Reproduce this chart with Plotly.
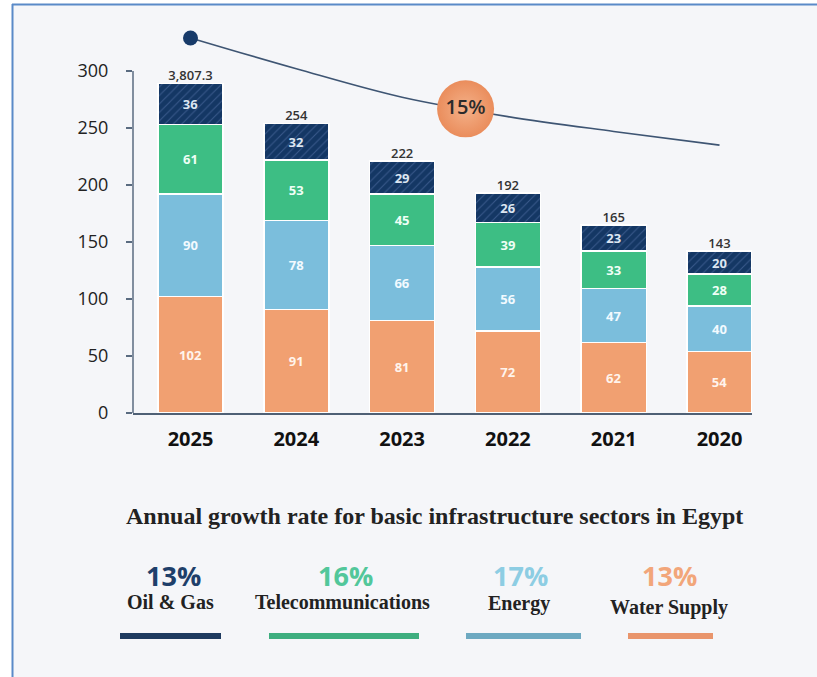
import numpy as np
import plotly.graph_objects as go

# ---- data ---------------------------------------------------------------
years = ["2025", "2024", "2023", "2022", "2021", "2020"]
water_supply = [102, 91, 81, 72, 62, 54]
energy = [90, 78, 66, 56, 47, 40]
telecom = [61, 53, 45, 39, 33, 28]
oil_gas = [36, 32, 29, 26, 23, 20]
total_labels = ["3,807.3", "254", "222", "192", "165", "143"]
trend = [329, 302, 277, 260, 247, 235]
trend_rate = "15%"
sectors = ["Oil & Gas", "Telecommunications", "Energy", "Water Supply"]
sector_growth = ["13%", "16%", "17%", "13%"]
y_ticks = [0, 50, 100, 150, 200, 250, 300]
title_text = "Annual growth rate for basic infrastructure sectors in Egypt"

# ---- styling --------------------------------------------------------------
W, H = 817, 677
ML, MR, MT, MB = 133, 65, 20, 264
PW, PH = W - ML - MR, H - MT - MB
PX_PER_UNIT = 1.14

C_WATER, C_ENERGY, C_TELE, C_OIL = "#F1A071", "#7BBEDC", "#3DBE84", "#143764"
PCT_COLORS = ["#1F3F6A", "#52C79A", "#8DCDE3", "#F2A67A"]
KEY_COLORS = ["#1E3A5F", "#3EAE7F", "#6DA9C1", "#E9956C"]
BG = "#F5F6F9"
SANS = "Open Sans"
SERIF = "Liberation Serif"


def px(xp):
    return (xp - ML) / PW


def py(yp):
    return (H - MB - yp) / PH


x_pos = list(range(len(years)))
totals = [a + b + c + d for a, b, c, d in zip(water_supply, energy, telecom, oil_gas)]

fig = go.Figure()

stack = [
    ("Water Supply", water_supply, C_WATER, "#FFF4EC", None),
    ("Energy", energy, C_ENERGY, "#F2FAFF", None),
    ("Telecommunications", telecom, C_TELE, "#EFFFF6", None),
    ("Oil & Gas", oil_gas, C_OIL, "#DCE6F2",
     dict(shape="/", fillmode="replace", bgcolor=C_OIL, fgcolor="#38588A",
          size=6, solidity=0.18)),
]
for name, vals, col, tcol, pattern in stack:
    marker = dict(color=col, line=dict(color="#FFFFFF", width=1.5))
    if pattern:
        marker["pattern"] = pattern
    fig.add_trace(go.Bar(
        x=x_pos, y=vals, name=name, width=0.615, marker=marker,
        texttemplate="%{y}", textposition="inside", insidetextanchor="middle",
        textangle=0, constraintext="none",
        textfont=dict(family=SANS, size=13, color=tcol, weight=700),
    ))

# totals above each column
fig.add_trace(go.Scatter(
    x=x_pos, y=totals, mode="text", text=total_labels,
    textposition="top center", cliponaxis=False,
    textfont=dict(family=SANS, size=13, color="#333333", weight=600),
))

# overall growth curve
fig.add_trace(go.Scatter(
    x=x_pos, y=trend, mode="lines",
    line=dict(color="#3E5573", width=1.6, shape="spline", smoothing=1.0),
    cliponaxis=False,
))
fig.add_trace(go.Scatter(
    x=[x_pos[0]], y=[trend[0]], mode="markers", cliponaxis=False,
    marker=dict(size=15, color="#173A69"),
))
bx = 2.6
by = float(np.interp(bx, x_pos, trend))
fig.add_trace(go.Scatter(
    x=[bx], y=[by], mode="markers+text", text=[trend_rate],
    textposition="middle center", cliponaxis=False,
    marker=dict(size=57, color="#EA8D5C",
                gradient=dict(type="radial", color="#F4B189"),
                line=dict(width=0)),
    textfont=dict(family=SANS, size=20, color="#2B2B2B", weight=600),
))

shapes = [
    # white surround outside the frame
    dict(type="rect", xref="paper", yref="paper", x0=px(0), x1=px(12), y0=py(H), y1=py(0),
         fillcolor="#FFFFFF", line=dict(width=0), layer="below"),
    dict(type="rect", xref="paper", yref="paper", x0=px(0), x1=px(W), y0=py(4), y1=py(0),
         fillcolor="#FFFFFF", line=dict(width=0), layer="below"),
    # frame lines
    dict(type="line", xref="paper", yref="paper", x0=px(12), x1=px(W), y0=py(4.5), y1=py(4.5),
         line=dict(color="#5A8AC8", width=2)),
    dict(type="line", xref="paper", yref="paper", x0=px(12.5), x1=px(12.5), y0=py(4), y1=py(H),
         line=dict(color="#5A8AC8", width=2)),
    # value axis line (0-300)
    dict(type="line", xref="paper", yref="y", x0=0, x1=0, y0=0, y1=y_ticks[-1],
         line=dict(color="#5A6B80", width=1.5)),
]

annotations = [
    dict(text=title_text, xref="paper", yref="paper", x=px(434), y=py(516),
         showarrow=False, xanchor="center", yanchor="middle",
         font=dict(family=SERIF, size=24, color="#222222", weight=700)),
]

key_pct_x = [173, 345, 520, 669]
key_name_x = [170, 342, 519, 669]
key_name_y = [602, 602, 603, 607]
key_bars = [(120, 221), (269, 419), (466, 581), (628, 713)]
for i, (name, pct) in enumerate(zip(sectors, sector_growth)):
    annotations.append(dict(text=pct, xref="paper", yref="paper", x=px(key_pct_x[i]), y=py(575),
                            showarrow=False, xanchor="center", yanchor="middle",
                            font=dict(family=SANS, size=27, color=PCT_COLORS[i], weight=700)))
    annotations.append(dict(text=name, xref="paper", yref="paper", x=px(key_name_x[i]),
                            y=py(key_name_y[i]), showarrow=False, xanchor="center",
                            yanchor="middle",
                            font=dict(family=SERIF, size=20, color="#222222", weight=700)))
    x0, x1 = key_bars[i]
    shapes.append(dict(type="rect", xref="paper", yref="paper", x0=px(x0), x1=px(x1),
                       y0=py(639), y1=py(633), fillcolor=KEY_COLORS[i], line=dict(width=0)))

fig.update_layout(
    width=W, height=H, autosize=False,
    margin=dict(l=ML, r=MR, t=MT, b=MB, pad=0),
    paper_bgcolor=BG, plot_bgcolor="rgba(0,0,0,0)",
    barmode="stack", showlegend=False, hovermode=False,
    shapes=shapes, annotations=annotations,
    xaxis=dict(
        range=[-0.5435, 5.307], tickmode="array", tickvals=x_pos, ticktext=years,
        showline=True, linecolor="#4F6075", linewidth=1.5, ticks="",
        showgrid=False, zeroline=False, ticklabelstandoff=7,
        tickfont=dict(family=SANS, size=20, color="#111111", weight=700),
    ),
    yaxis=dict(
        range=[0, PH / PX_PER_UNIT], tickmode="array", tickvals=y_ticks,
        ticks="outside", ticklen=6, tickwidth=1.5, tickcolor="#5A6B80",
        showline=False, showgrid=False, zeroline=False, ticklabelstandoff=14,
        tickfont=dict(family=SANS, size=18, color="#222222"),
    ),
)

fig.write_html("out.html")
